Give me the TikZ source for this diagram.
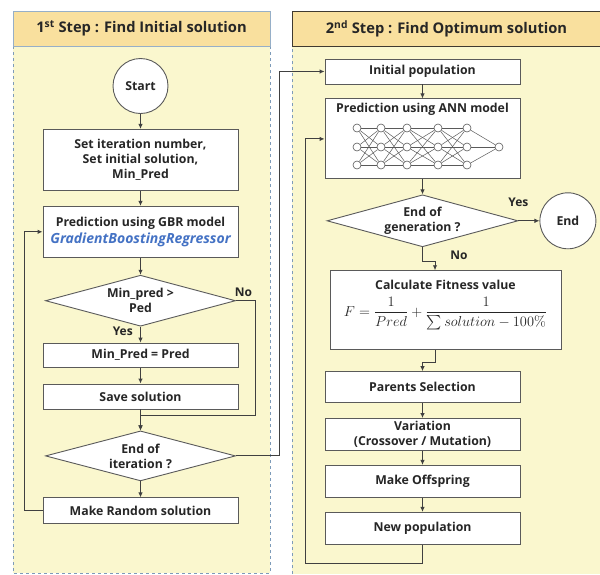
\documentclass[tikz,border=0pt]{standalone}
\usepackage{amsmath}
\usepackage[no-math]{fontspec}
\setmainfont{Open Sans}
\usepackage{xcolor}
\usetikzlibrary{positioning, shapes.geometric, arrows.meta}

\definecolor{headfill}{RGB}{249,224,158}
\definecolor{bodyfill}{RGB}{250,247,206}
\definecolor{dashblue}{RGB}{125,155,185}
\definecolor{headline}{RGB}{150,175,200}
\definecolor{darkline}{RGB}{64,58,48}
\definecolor{boxgray}{RGB}{90,90,90}
\definecolor{linegray}{RGB}{64,64,64}
\definecolor{textdark}{RGB}{38,38,38}
\definecolor{gbrblue}{RGB}{68,114,196}

\begin{document}
\begin{tikzpicture}[x=1pt, y=1pt, node distance=15pt, every node/.style={font=\bfseries\fontsize{12.3}{15}\selectfont, align=center, text=textdark}, arrow/.style={-{Latex[length=5pt, width=4.5pt]}, line width=0.9pt, draw=linegray}]
        \tikzstyle{procbox} = [rectangle, draw=boxgray, fill=white, line width=0.9pt, minimum width=195pt, minimum height=25pt, inner sep=2pt]
        \tikzstyle{decision} = [diamond, aspect=3.7, draw=boxgray, fill=white, line width=0.9pt, minimum width=190pt, minimum height=51pt, inner sep=0pt]
        \tikzstyle{terminal} = [circle, draw=boxgray, fill=white, line width=0.9pt, minimum size=55pt, inner sep=0pt]
        \tikzstyle{neuron} = [circle, draw=boxgray, fill=white, line width=0.6pt, minimum size=8pt, inner sep=0pt]
        \tikzstyle{netline} = [draw=boxgray, line width=0.5pt]
        \tikzstyle{steptitle} = [font=\bfseries\fontsize{14.7}{18}\selectfont, minimum height=35pt]
        \tikzstyle{answer} = [font=\bfseries\fontsize{12}{14}\selectfont]

        \useasboundingbox (0,0) rectangle (600,-574);

        \fill[bodyfill] (13,-46) rectangle (270,-573);
        \draw[dashblue, dashed, line width=0.8pt] (13,-46) rectangle (270,-573);
        \fill[bodyfill] (292,-46) rectangle (600,-574);
        \draw[dashblue, dashed, line width=0.8pt] (292.5,-574) -- (292.5,-46.5) -- (600,-46.5);

        \node[steptitle, draw=headline, fill=headfill, minimum width=257pt] (head1) at (141.5,-28.5) {1\textsuperscript{st} Step : Find Initial solution};
        \node[steptitle, draw=darkline, fill=headfill, minimum width=309pt] (head2) at (446.5,-28.5) {2\textsuperscript{nd} Step : Find Optimum solution};

        \node[terminal] (start) at (140.5,-86) {Start};
        \node[procbox, minimum height=61pt, below=15pt of start] (init) {Set iteration number,\\Set initial solution,\\Min\_Pred};
        \node[procbox, minimum height=51pt, below=15pt of init] (gbr) {Prediction using GBR model\\[2pt]{\color{gbrblue}\itshape\fontsize{14}{16}\selectfont GradientBoostingRegressor}};
        \node[decision, below=17pt of gbr] (cmp) {Min\_pred >\\Ped};
        \node[procbox, minimum height=24pt, below=16pt of cmp] (minpred) {Min\_Pred = Pred};
        \node[procbox, below=16pt of minpred] (save) {Save solution};
        \node[decision, minimum height=50pt, below=21pt of save] (enditer) {End of\\iteration ?};
        \node[procbox, minimum height=26pt, below=16pt of enditer] (random) {Make Random solution};

        \node[procbox] (initpop) at (422.5,-71.5) {Initial population};
        \node[procbox, minimum height=80pt, below=14pt of initpop] (ann) {};
        \node[below=1pt of ann.north] (anntitle) {Prediction using ANN model};
        \node[decision, minimum width=191pt, minimum height=52pt, below=15pt of ann] (endgen) {End of\\generation ?};
        \node[terminal, minimum size=56pt, right=21pt of endgen] (end) {End};
        \node[procbox, minimum width=231pt, minimum height=79pt, below=23pt of endgen, xshift=23pt] (calc) {};
        \node[below=6pt of calc.north] (calctitle) {Calculate Fitness value};
        \node[font=\fontsize{15}{18}\selectfont, below=1pt of calctitle] (fitness) {$F=\dfrac{1}{Pred}+\dfrac{1}{\sum solution-100\%}$};
        \node[procbox, minimum height=31pt, below=21pt of calc, xshift=-23pt] (parents) {Parents Selection};
        \node[procbox, minimum height=32pt, below=15pt of parents] (variation) {Variation\\(Crossover / Mutation)};
        \node[procbox, minimum height=32pt, below=14pt of variation] (offspring) {Make Offspring};
        \node[procbox, minimum height=32pt, below=14pt of offspring] (newpop) {New population};

        \foreach \i/\x in {1/357, 2/381, 3/407, 4/438, 5/467}
            \foreach \j/\y in {1/128, 2/147, 3/165}
                \node[neuron] (n\i\j) at (\x,-\y) {};
        \node[neuron] (nout) at (499,-147) {};
        \foreach \i/\k in {1/2, 2/3, 3/4, 4/5}
            \foreach \j in {1,2,3}
                \foreach \m in {1,2,3}
                    \draw[netline] (n\i\j) -- (n\k\m);
        \foreach \j in {1,2,3}
            \draw[netline] (n5\j) -- (nout);

        \draw[arrow] (start) -- (init);
        \draw[arrow] (init) -- (gbr);
        \draw[arrow] (gbr) -- (cmp);
        \draw[arrow] (cmp) -- (minpred) node[pos=0.3, left=4pt, answer]{Yes};
        \draw[arrow] (minpred) -- (save);
        \draw[arrow] (save) -- (enditer);
        \draw[arrow] (cmp.east) -- ++(19,0) node[pos=0.4, above, answer]{No} |- ([yshift=15pt]enditer.north) -- (enditer.north);
        \draw[arrow] (enditer) -- (random);
        \draw[arrow] (random.west) -- ++(-18,0) |- (gbr.west);
        \draw[arrow] (enditer.east) -| ([xshift=-45pt]initpop.west) -- (initpop.west);

        \draw[arrow] (initpop) -- (ann);
        \draw[arrow] (ann) -- (endgen);
        \draw[arrow] (endgen.east) -- (end.west) node[pos=0, above=10pt, answer]{Yes};
        \draw[arrow] (endgen.south) -- ++(0,-14) node[pos=0.6, right=24pt, answer]{No} -| ([xshift=-10.5pt]calc.north);
        \draw[arrow] ([xshift=-10.5pt]calc.south) -- ++(0,-12) -| (parents.north);
        \draw[arrow] (parents) -- (variation);
        \draw[arrow] (variation) -- (offspring);
        \draw[arrow] (offspring) -- (newpop);
        \draw[arrow] (newpop.south) -- ++(0,-19) -| ([xshift=-19pt]ann.west) -- (ann.west);
    \end{tikzpicture}
\end{document}
